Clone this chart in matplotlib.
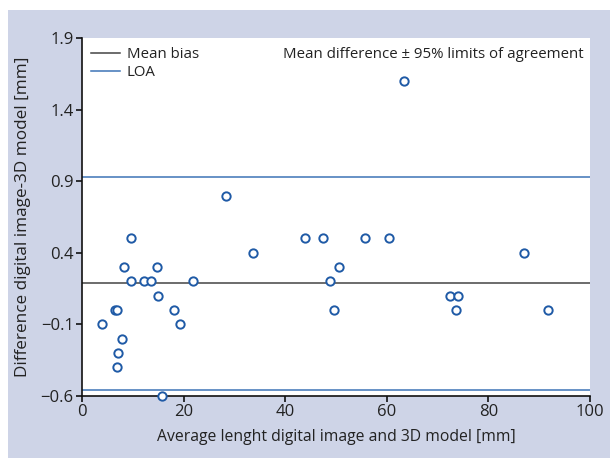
import matplotlib.pyplot as plt
from matplotlib.patches import Rectangle

# Bland-Altman data: average length vs difference (digital image - 3D model)
avg_len = [63.4, 28.3, 9.6, 33.7, 43.8, 47.4, 55.8, 60.4, 87.1, 8.2, 14.7, 50.5,
           9.6, 12.3, 13.6, 21.9, 48.9, 15.0, 72.4, 74.1, 6.4, 6.8, 18.1, 49.6,
           73.6, 91.8, 4.0, 19.3, 7.8, 7.1, 6.8, 15.8]
diff = [1.6, 0.8, 0.5, 0.4, 0.5, 0.5, 0.5, 0.5, 0.4, 0.3, 0.3, 0.3,
        0.2, 0.2, 0.2, 0.2, 0.2, 0.1, 0.1, 0.1, 0.0, 0.0, 0.0, 0.0,
        0.0, 0.0, -0.1, -0.1, -0.2, -0.3, -0.4, -0.6]
mean_bias = 0.19
loa_upper = 0.93
loa_lower = -0.56

x_ticks = [0, 20, 40, 60, 80, 100]
y_ticks = [-0.6, -0.1, 0.4, 0.9, 1.4, 1.9]

BG = '#CED4E7'
BLUE = '#1F5AA6'
LOA_BLUE = '#3D74B6'
TEXT = '#222222'

plt.rcParams['font.family'] = ['Open Sans', 'DejaVu Sans']

fig = plt.figure(figsize=(6.1, 4.58), dpi=100, facecolor='white')
fig.patches.append(Rectangle((8 / 610, 0), 1, (458 - 10) / 458,
                             transform=fig.transFigure, facecolor=BG,
                             edgecolor='none', zorder=-10))

ax = fig.add_axes([82 / 610, 62 / 458, 508 / 610, 358 / 458])
ax.set_facecolor('white')

ax.axhline(mean_bias, color='#444444', lw=1.1, label='Mean bias')
ax.axhline(loa_upper, color=LOA_BLUE, lw=1.1, label='LOA')
ax.axhline(loa_lower, color=LOA_BLUE, lw=1.1)

ax.plot(avg_len, diff, 'o', ms=6, mfc='white', mec=BLUE, mew=1.4,
        clip_on=False, zorder=5)

ax.set_xlim(0, 100)
ax.set_ylim(-0.6, 1.9)
ax.set_xticks(x_ticks)
ax.set_yticks(y_ticks)
ax.set_yticklabels([f'{v:.1f}'.replace('-', '\u2212') for v in y_ticks])

for s in ['top', 'right']:
    ax.spines[s].set_visible(False)
for s in ['left', 'bottom']:
    ax.spines[s].set_linewidth(1.2)
    ax.spines[s].set_color('#111111')

ax.tick_params(direction='out', length=4, width=1.1, labelsize=12,
               labelcolor=TEXT, pad=2)

ax.set_xlabel('Average lenght digital image and 3D model [mm]', fontsize=11.3,
              color=TEXT, labelpad=6)
ax.set_ylabel('Difference digital image-3D model [mm]', fontsize=12.3,
              color=TEXT, labelpad=7)

ax.legend(loc='upper left', frameon=False, fontsize=10.8, handlelength=1.9,
          handletextpad=0.5, labelspacing=0.2, borderaxespad=0.2,
          labelcolor=TEXT)
ax.text(0.988, 0.975, 'Mean difference \u00b1 95% limits of agreement',
        transform=ax.transAxes, ha='right', va='top', fontsize=10.8, color=TEXT)

fig.savefig('out.png', dpi=100, facecolor='white')
